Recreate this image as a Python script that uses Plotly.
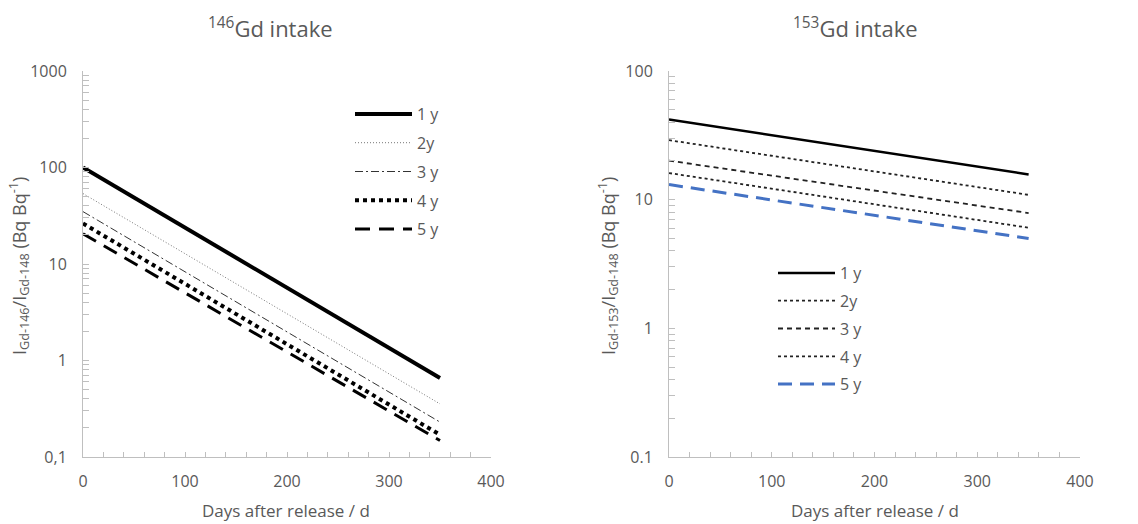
import plotly.graph_objects as go

# ---- data ----
days = [0, 350]
series_names = ["1 y", "2y", "3 y", "4 y", "5 y"]
gd146_values = [
    [100.0, 0.66],
    [53.7, 0.355],
    [34.9, 0.23],
    [26.3, 0.17],
    [20.6, 0.148],
]
gd153_values = [
    [42.0, 15.7],
    [29.0, 10.9],
    [20.1, 7.87],
    [16.1, 6.05],
    [13.1, 5.0],
]
x_ticks = [0, 100, 200, 300, 400]
left_y_ticks = [0.1, 1, 10, 100, 1000]
left_y_text = ["0,1", "1", "10", "100", "1000"]
right_y_ticks = [0.1, 1, 10, 100]
right_y_text = ["0.1", "1", "10", "100"]

# ---- styles ----
left_styles = [
    dict(color="black", width=4, dash="solid"),
    dict(color="#777777", width=1, dash="1px,2px"),
    dict(color="#333333", width=1, dash="8px,3px,2px,3px"),
    dict(color="black", width=4, dash="dot"),
    dict(color="black", width=3, dash="15px,9px"),
]
right_styles = [
    dict(color="black", width=2.5, dash="solid"),
    dict(color="#222222", width=1.8, dash="dot"),
    dict(color="#222222", width=1.8, dash="5px,4px"),
    dict(color="#222222", width=1.8, dash="dot"),
    dict(color="#4472C4", width=3, dash="14px,8px"),
]

FONT = "Open Sans, Liberation Sans, sans-serif"
TXT = "#595959"
AX = "#bfbfbf"

fig = go.Figure()
for i, name in enumerate(series_names):
    fig.add_trace(go.Scatter(x=days, y=gd146_values[i], mode="lines", name=name,
                             line=left_styles[i], xaxis="x", yaxis="y",
                             legend="legend", legendgroup="a%d" % i))
for i, name in enumerate(series_names):
    fig.add_trace(go.Scatter(x=days, y=gd153_values[i], mode="lines", name=name,
                             line=right_styles[i], xaxis="x2", yaxis="y2",
                             legend="legend2", legendgroup="b%d" % i))

W, H = 1138, 524
def px(x):
    return x / W
def py(y):
    return 1 - y / H

minor_log = []
for dec in [0.1, 1, 10, 100]:
    for k in range(2, 10):
        minor_log.append(dec * k)

xaxis_common = dict(range=[0, 400], tickvals=x_ticks, showline=True, linecolor=AX, linewidth=1,
                    showgrid=False, zeroline=False, ticks="inside", ticklen=5, tickcolor=AX,
                    tickfont=dict(family=FONT, size=16, color=TXT), ticklabelstandoff=10,
                    minor=dict(dtick=20, ticks="inside", ticklen=5, tickcolor=AX, showgrid=False),
                    automargin=False, fixedrange=True)
yaxis_common = dict(type="log", showline=True, linecolor=AX, linewidth=1, showgrid=False,
                    zeroline=False, ticks="inside", ticklen=6, tickcolor=AX,
                    tickfont=dict(family=FONT, size=16, color=TXT), ticklabelstandoff=12,
                    minor=dict(tickmode="array", tickvals=minor_log, ticks="inside", ticklen=6,
                               tickcolor=AX, showgrid=False),
                    automargin=False, fixedrange=True)

fig.update_layout(
    width=W, height=H,
    margin=dict(l=0, r=0, t=0, b=0),
    paper_bgcolor="white", plot_bgcolor="white",
    font=dict(family=FONT, color=TXT),
    xaxis=dict(domain=[px(83), px(491)], anchor="y", **xaxis_common),
    yaxis=dict(domain=[py(457), py(71)], anchor="x", range=[-1, 3],
               tickvals=left_y_ticks, ticktext=left_y_text, **yaxis_common),
    xaxis2=dict(domain=[px(669), px(1080)], anchor="y2", **xaxis_common),
    yaxis2=dict(domain=[py(457), py(71)], anchor="x2", range=[-1, 2],
                tickvals=right_y_ticks, ticktext=right_y_text, **yaxis_common),
    legend=dict(x=px(350), y=py(97), xanchor="left", yanchor="top",
                bgcolor="rgba(0,0,0,0)", font=dict(family=FONT, size=16, color=TXT),
                tracegroupgap=5, itemwidth=57),
    legend2=dict(x=px(773), y=py(256), xanchor="left", yanchor="top",
                 bgcolor="rgba(0,0,0,0)", font=dict(family=FONT, size=16, color=TXT),
                 tracegroupgap=4, itemwidth=57),
    showlegend=True,
)

ann = [
    dict(text="<sup>146</sup>Gd intake", x=px(270), y=py(27), font=dict(size=22)),
    dict(text="<sup>153</sup>Gd intake", x=px(855), y=py(27), font=dict(size=22)),
    dict(text="Days after release / d", x=px(286), y=py(510), font=dict(size=17)),
    dict(text="Days after release / d", x=px(875), y=py(510), font=dict(size=17)),
    dict(text="I<sub>Gd-146</sub>/I<sub>Gd-148</sub> (Bq Bq<sup>-1</sup>)", x=px(19), y=py(266),
         textangle=-90, font=dict(size=18)),
    dict(text="I<sub>Gd-153</sub>/I<sub>Gd-148</sub> (Bq Bq<sup>-1</sup>)", x=px(608), y=py(266),
         textangle=-90, font=dict(size=18)),
]
for a in ann:
    a.update(xref="paper", yref="paper", showarrow=False, xanchor="center", yanchor="middle")
    a["font"].update(family=FONT, color=TXT)
fig.update_layout(annotations=ann)

fig.write_html("out.html")
